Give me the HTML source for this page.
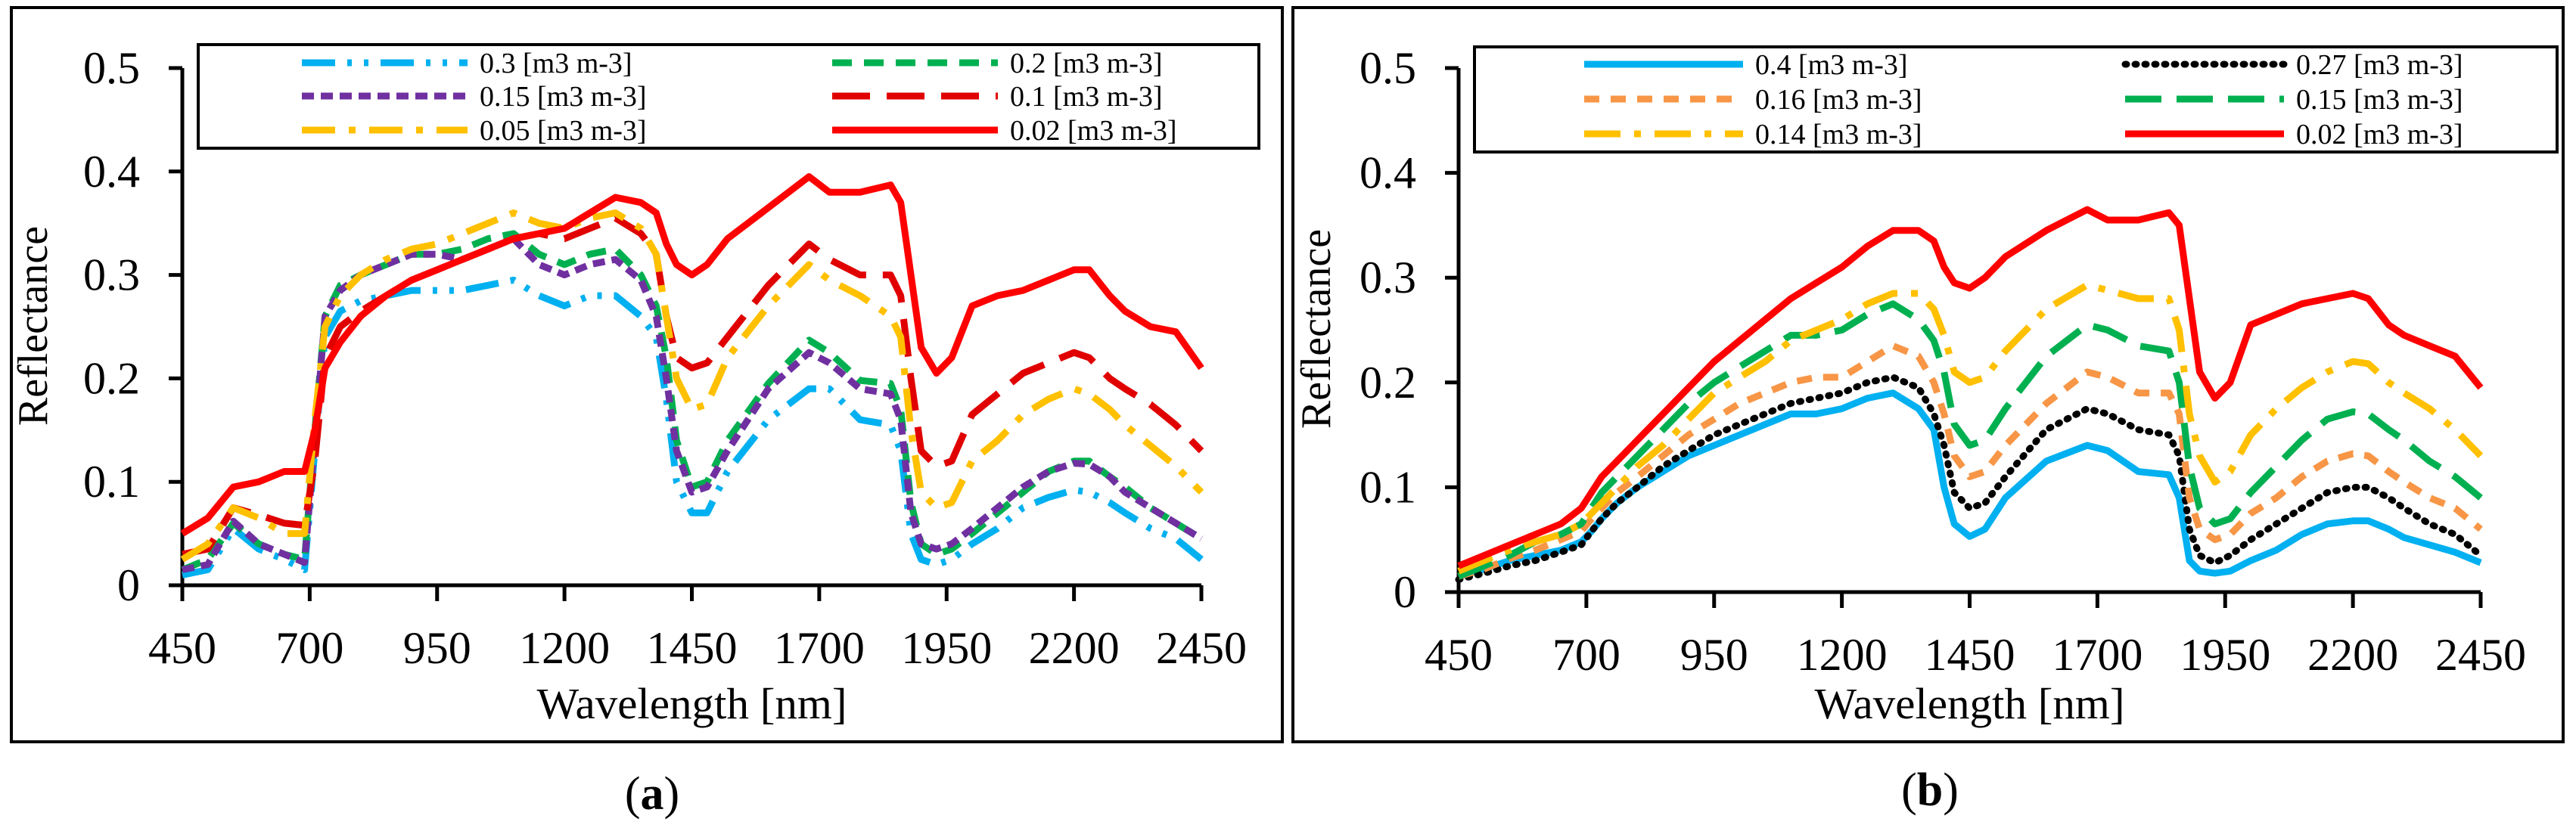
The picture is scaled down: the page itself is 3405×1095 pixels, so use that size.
<!DOCTYPE html>
<html><head><meta charset="utf-8"><style>
html,body{margin:0;padding:0;background:#fff;}
svg{display:block;font-family:"Liberation Serif",serif;}
</style></head><body>
<svg id="fig" width="3405" height="1095" viewBox="0 0 3405 1095" xmlns="http://www.w3.org/2000/svg">
<rect x="15" y="10" width="1680" height="971" fill="none" stroke="#000" stroke-width="4"/>
<rect x="1709" y="10" width="1679" height="971" fill="none" stroke="#000" stroke-width="4"/>
<text x="862" y="1070" font-size="62" text-anchor="middle">(<tspan font-weight="bold">a</tspan>)</text>
<text x="2551" y="1065" font-size="62" text-anchor="middle">(<tspan font-weight="bold">b</tspan>)</text>
</svg>
<script>
const wl = [450,500,550,600,650,690,710,730,760,800,850,900,950,1000,1050,1100,1150,1200,1250,1300,1350,1380,1400,1420,1450,1480,1520,1600,1680,1720,1780,1840,1860,1880,1900,1930,1960,2000,2050,2100,2150,2200,2230,2270,2300,2350,2400,2450];
const xTicks = [450,700,950,1200,1450,1700,1950,2200,2450];
const yTicks = [0,0.1,0.2,0.3,0.4,0.5];
const yTickLabels = ["0","0.1","0.2","0.3","0.4","0.5"];
// Panel (a)
const aLabels = ["0.3 [m3 m-3]","0.2 [m3 m-3]","0.15 [m3 m-3]","0.1 [m3 m-3]","0.05 [m3 m-3]","0.02 [m3 m-3]"];
const a03 = [.01,.015,.055,.035,.025,.015,.13,.24,.265,.275,.28,.285,.285,.285,.29,.295,.28,.27,.28,.28,.26,.24,.18,.10,.07,.07,.11,.16,.19,.19,.16,.155,.13,.05,.025,.02,.025,.04,.055,.075,.085,.092,.09,.08,.07,.055,.045,.025];
const a02 = [.015,.025,.06,.04,.03,.025,.15,.26,.29,.30,.31,.32,.32,.325,.335,.34,.32,.31,.32,.325,.30,.27,.22,.14,.095,.10,.14,.195,.237,.225,.198,.195,.17,.08,.04,.03,.035,.05,.07,.09,.11,.12,.12,.105,.095,.075,.06,.045];
const a015 = [.015,.02,.062,.04,.03,.022,.14,.26,.285,.30,.31,.32,.32,.315,.325,.335,.31,.30,.31,.315,.295,.26,.20,.13,.09,.095,.13,.19,.225,.215,.19,.185,.16,.07,.04,.035,.04,.055,.075,.095,.11,.118,.117,.105,.09,.075,.06,.045];
const a01 = [.03,.035,.075,.068,.06,.058,.12,.22,.25,.265,.28,.295,.305,.315,.325,.335,.34,.335,.345,.355,.34,.32,.26,.22,.21,.215,.24,.29,.33,.315,.30,.30,.28,.20,.13,.115,.12,.165,.185,.205,.215,.225,.22,.20,.19,.175,.155,.13];
const a005 = [.025,.04,.075,.065,.05,.05,.16,.25,.28,.30,.315,.325,.33,.34,.35,.36,.35,.345,.355,.36,.345,.32,.26,.20,.17,.175,.22,.27,.31,.295,.28,.26,.24,.15,.09,.075,.08,.12,.14,.165,.18,.19,.185,.17,.155,.135,.115,.09];
const a002 = [.05,.065,.095,.10,.11,.11,.15,.21,.235,.26,.28,.295,.305,.315,.325,.335,.34,.345,.36,.375,.37,.36,.33,.31,.30,.31,.335,.365,.395,.38,.38,.387,.37,.30,.23,.205,.22,.27,.28,.285,.295,.305,.305,.28,.265,.25,.245,.21];
// Panel (b)
const bLabels = ["0.4 [m3 m-3]","0.27 [m3 m-3]","0.16 [m3 m-3]","0.15 [m3 m-3]","0.14 [m3 m-3]","0.02 [m3 m-3]"];
const b04 = [.015,.022,.03,.035,.04,.048,.058,.07,.085,.10,.115,.13,.14,.15,.16,.17,.17,.175,.185,.19,.175,.155,.10,.065,.053,.06,.09,.125,.14,.135,.115,.112,.09,.03,.02,.018,.02,.03,.04,.055,.065,.068,.068,.06,.052,.045,.038,.028];
const b027 = [.012,.018,.025,.03,.038,.045,.058,.07,.085,.10,.12,.135,.15,.16,.17,.18,.185,.19,.20,.205,.195,.17,.14,.095,.08,.085,.11,.155,.175,.17,.155,.15,.13,.06,.035,.028,.035,.05,.065,.08,.095,.10,.10,.09,.08,.065,.055,.035];
const b016 = [.015,.022,.032,.04,.05,.058,.07,.08,.095,.11,.13,.15,.165,.18,.19,.20,.205,.205,.22,.235,.225,.20,.17,.13,.11,.115,.14,.18,.21,.205,.19,.19,.17,.09,.06,.05,.055,.075,.09,.11,.125,.132,.13,.115,.105,.09,.08,.06];
const b015 = [.015,.025,.035,.048,.055,.065,.08,.095,.11,.13,.155,.18,.20,.215,.23,.245,.245,.25,.265,.275,.26,.24,.21,.16,.14,.145,.175,.225,.255,.25,.235,.23,.20,.12,.08,.065,.07,.095,.12,.145,.165,.172,.17,.155,.145,.125,.11,.09];
const b014 = [.02,.03,.04,.048,.055,.065,.075,.085,.10,.12,.14,.165,.19,.205,.22,.24,.25,.26,.275,.285,.285,.27,.245,.21,.20,.205,.23,.27,.293,.288,.28,.28,.25,.17,.13,.105,.115,.15,.175,.195,.21,.22,.218,.20,.19,.175,.155,.13];
const b002 = [.025,.035,.045,.055,.065,.08,.095,.11,.125,.145,.17,.195,.22,.24,.26,.28,.295,.31,.33,.345,.345,.335,.31,.295,.29,.30,.32,.345,.365,.355,.355,.362,.35,.28,.21,.185,.20,.255,.265,.275,.28,.285,.28,.255,.245,.235,.225,.195];

const NS="http://www.w3.org/2000/svg";
const svg=document.getElementById('fig');
function mk(tag,attrs,parent){const e=document.createElementNS(NS,tag);for(const k in attrs)e.setAttribute(k,attrs[k]);(parent||svg).appendChild(e);return e;}

function panel(P){
  const g=mk('g',{});
  
  
  const sx=v=>P.x0+(v-450)/2000*(P.x1-P.x0);
  const sy=v=>P.y0-v/0.5*(P.y0-P.y5);
  const ya=mk('line',{x1:P.x0,y1:P.y0,x2:P.x0,y2:P.y5,stroke:'#000','stroke-width':5},g);
  
  
  const xa=mk('line',{x1:P.x0,y1:P.y0,x2:P.x1,y2:P.y0,stroke:'#000','stroke-width':5},g);
  
  
  yTicks.forEach((v,i)=>{
    mk('line',{x1:P.x0-18,y1:sy(v),x2:P.x0,y2:sy(v),stroke:'#000','stroke-width':5},g);
    const t=mk('text',{x:P.x0-56,y:sy(v)+20,'font-size':60,'text-anchor':'end'},g);
    t.textContent=yTickLabels[i];
    
    
  });
  xTicks.forEach(v=>{
    mk('line',{x1:sx(v),y1:P.y0,x2:sx(v),y2:P.y0+21,stroke:'#000','stroke-width':5},g);
    const t=mk('text',{x:sx(v),y:P.y0+103,'font-size':60,'text-anchor':'middle'},g);
    t.textContent=v;
    
    
  });
  const xt=mk('text',{x:(P.x0+P.x1)/2,y:950,'font-size':58,'text-anchor':'middle',textLength:410,lengthAdjust:'spacingAndGlyphs'},g);
  xt.textContent='Wavelength [nm]';
  
  
  const yt=mk('text',{x:0,y:0,'font-size':56,'text-anchor':'middle',transform:`translate(${P.ytx},${P.yty}) rotate(-90)`},g);
  yt.textContent='Reflectance';
  
  
  P.series.forEach(s=>{
    const d=wl.map((w,i)=>(i?'L':'M')+sx(w).toFixed(1)+','+sy(s.v[i]).toFixed(1)).join(' ');
    const p=mk('path',{d:d,fill:'none',stroke:s.c,'stroke-width':9,'stroke-dasharray':s.dash,'stroke-linecap':s.cap||'butt','stroke-linejoin':'round'},g);
    
    
  });
  const L=P.leg;
  const lb=mk('rect',{x:L.x,y:L.y,width:L.w,height:L.h,fill:'#fff',stroke:'#000','stroke-width':4},g);
  
  
  P.series.forEach((s,i)=>{
    const lx=s.col?L.c2:L.c1, ly=L.rows[s.row];
    const ln=mk('line',{x1:lx,y1:ly,x2:lx+L.len,y2:ly,stroke:s.c,'stroke-width':9,'stroke-dasharray':s.dash,'stroke-linecap':s.cap||'butt'},g);
    
    
    const t=mk('text',{x:lx+L.len+16,y:ly+13,'font-size':38},g);
    t.textContent=s.label;
    
    
  });
}

panel({id:'panel-a',x0:241,x1:1588,y0:774,y5:90,ytx:62,yty:431,
  leg:{x:262,y:59,w:1402,h:137,c1:399,c2:1100,len:219,rows:[83,127,172]},
  series:[
    {v:a03,c:'#00B0F0',dash:'44 16 6 16 6 16',label:aLabels[0],col:0,row:0},
    {v:a02,c:'#00B050',dash:'26 16',label:aLabels[1],col:1,row:0},
    {v:a015,c:'#7030A0',dash:'16 9',label:aLabels[2],col:0,row:1},
    {v:a01,c:'#E00000',dash:'50 22',label:aLabels[3],col:1,row:1},
    {v:a005,c:'#FFC000',dash:'44 18 9 18',label:aLabels[4],col:0,row:2},
    {v:a002,c:'#FF0000',dash:'none',label:aLabels[5],col:1,row:2}
  ]});
panel({id:'panel-b',x0:1928,x1:3279,y0:783,y5:90,ytx:1758,yty:435,
  leg:{x:1949,y:62,w:1431,h:139,c1:2094,c2:2809,len:210,rows:[85,131,177]},
  series:[
    {v:b04,c:'#00B0F0',dash:'none',label:bLabels[0],col:0,row:0},
    {v:b027,c:'#000000',dash:'2 11',cap:'round',label:bLabels[1],col:1,row:0},
    {v:b016,c:'#F79646',dash:'20 15',label:bLabels[2],col:0,row:1},
    {v:b015,c:'#00B050',dash:'48 20',label:bLabels[3],col:1,row:1},
    {v:b014,c:'#FFC000',dash:'48 18 9 18',label:bLabels[4],col:0,row:2},
    {v:b002,c:'#FF0000',dash:'none',label:bLabels[5],col:1,row:2}
  ]});
</script>
</body></html>
